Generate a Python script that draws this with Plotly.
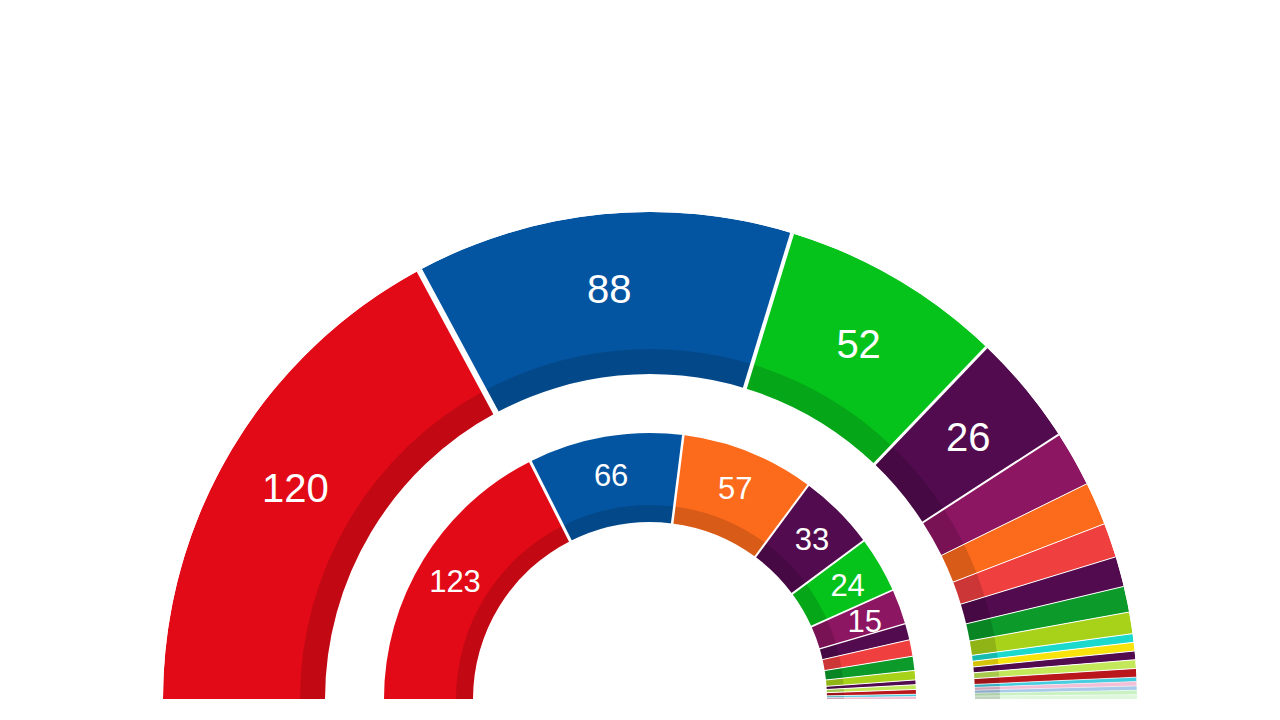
import plotly.graph_objects as go

# ---- data ----
outer_parties = ["PSOE", "PP", "Vox", "UP", "ERC", "Cs", "JxCat", "ECP", "PNV", "EH Bildu",
                 "Más País", "CUP", "GeC", "CC", "NA+", "Compromís", "PRC", "BNG", "TE", "Otros"]
outer_values = [120, 88, 52, 26, 13, 10, 8, 7, 6, 5, 2, 2, 2, 2, 2, 1, 1, 1, 1, 1]
outer_colors = ["#e20a17", "#0455a1", "#06c31c", "#520b4e", "#8c1662", "#fc6a1c", "#ef3f3f",
                "#520b4e", "#0c9b2a", "#a8d21a", "#1bd9cc", "#f8e40c", "#520b4e", "#c3e85a",
                "#b9171c", "#45cde0", "#f2bfd6", "#a8cbea", "#c9f2c3", "#dff7dc"]
outer_lines = [7, 5, 3, 3, 1, 1, 1, 1, 1, 1, 1, 1, 1, 1, 1, 0.5, 0.5, 0.5, 0.5, 0.5]

inner_parties = ["PSOE", "PP", "Cs", "UP", "Vox", "ERC", "ECP", "JxCat", "PNV", "EH Bildu",
                 "En Común", "CC", "NA+", "Compromís", "PRC"]
inner_values = [123, 66, 57, 33, 24, 15, 7, 7, 6, 4, 2, 2, 2, 1, 1]
inner_colors = ["#e20a17", "#0455a1", "#fc6a1c", "#520b4e", "#06c31c", "#8c1662", "#520b4e",
                "#ef3f3f", "#0c9b2a", "#a8d21a", "#520b4e", "#c3e85a", "#b9171c", "#45cde0",
                "#f2bfd6"]
inner_lines = [3, 3, 2, 2, 2, 1.5, 1, 1, 1, 1, 1, 1, 1, 0.5, 0.5]

# ring geometry (radial axis units == pixels)
R_MAX = 487
OUTER_IN, OUTER_OUT, OUTER_BAND = 325, 487, 25
INNER_IN, INNER_OUT, INNER_BAND = 177, 266, 17
LABEL_MIN = 15


def arc(values):
    total = sum(values)
    thetas, widths, bounds, cum = [], [], [], 0
    for v in values:
        thetas.append(180 - (cum + v / 2) / total * 180)
        widths.append(v / total * 180)
        cum += v
        bounds.append(180 - cum / total * 180)
    return thetas, widths, bounds[:-1]


fig = go.Figure()


def add_ring(parties, values, colors, lines, r_in, r_out, band, fsize, label_r):
    th, wd, bounds = arc(values)
    n = len(values)
    fig.add_trace(go.Barpolar(
        theta=th, width=wd, r=[r_out - r_in] * n, base=[r_in] * n,
        marker=dict(color=colors, line=dict(width=0)),
        text=parties, hoverinfo="text", showlegend=False))
    fig.add_trace(go.Barpolar(
        theta=th, width=wd, r=[band] * n, base=[r_in] * n,
        marker=dict(color="rgba(0,0,0,0.14)", line=dict(width=0)),
        hoverinfo="skip", showlegend=False))
    # white separators between slices
    for i, b in enumerate(bounds):
        fig.add_trace(go.Scatterpolar(
            theta=[b, b], r=[r_in - 2, r_out + 2], mode="lines",
            line=dict(color="white", width=(lines[i] + lines[i + 1]) / 2),
            hoverinfo="skip", showlegend=False))
    lab_t = [t for t, v in zip(th, values) if v >= LABEL_MIN]
    lab_v = [str(v) for v in values if v >= LABEL_MIN]
    fig.add_trace(go.Scatterpolar(
        theta=lab_t, r=[label_r] * len(lab_t), mode="text", text=lab_v,
        textfont=dict(color="white", size=fsize, family="Liberation Sans, Arial, sans-serif"),
        hoverinfo="skip", showlegend=False, subplot="polar2"))


add_ring(outer_parties, outer_values, outer_colors, outer_lines,
         OUTER_IN, OUTER_OUT, OUTER_BAND, 40, 413)
add_ring(inner_parties, inner_values, inner_colors, inner_lines,
         INNER_IN, INNER_OUT, INNER_BAND, 31, 229)

W, H = 1280, 720
cx, cy = 650, 699
TEXT_DROP = 5  # labels sit slightly below the geometric centre of each slice

polar_common = dict(
    sector=[0, 180],
    hole=0,
    barmode="overlay",
    bgcolor="rgba(0,0,0,0)",
    radialaxis=dict(range=[0, R_MAX], visible=False),
    angularaxis=dict(visible=False, direction="counterclockwise", rotation=0),
)

fig.update_layout(
    width=W, height=H,
    margin=dict(l=0, r=0, t=0, b=0),
    paper_bgcolor="white",
    polar=dict(domain=dict(x=[(cx - R_MAX) / W, (cx + R_MAX) / W],
                           y=[(H - cy) / H, (H - cy + R_MAX) / H]), **polar_common),
    polar2=dict(domain=dict(x=[(cx - R_MAX) / W, (cx + R_MAX) / W],
                            y=[(H - cy - TEXT_DROP) / H, (H - cy - TEXT_DROP + R_MAX) / H]),
                **polar_common),
)

fig.write_html("out.html")
